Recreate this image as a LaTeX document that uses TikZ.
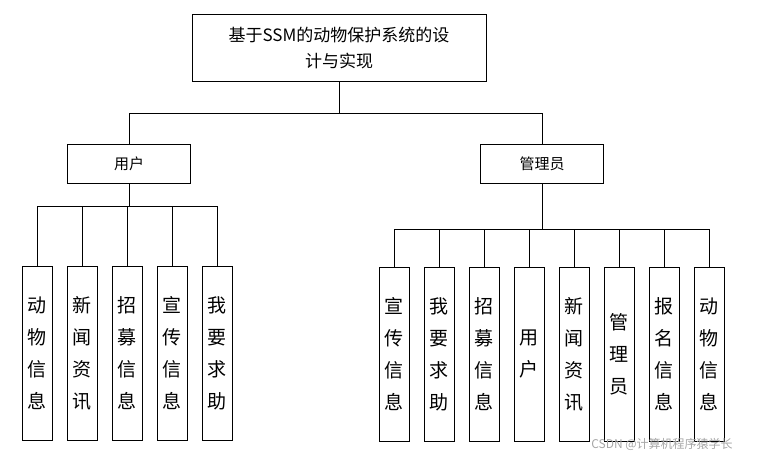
\documentclass[tikz,border=0pt]{standalone}
\usepackage{fontspec}
\newfontfamily\cjk{Noto Sans CJK SC}
\usetikzlibrary{positioning}

\begin{document}
\begin{tikzpicture}[
      x=1pt, y=-1pt,
      every node/.style={font=\cjk},
      box/.style={draw, thick, inner sep=0pt},
      leaf/.style={box, minimum width=30pt, minimum height=174pt, align=center, font=\cjk\fontsize{19}{32}\selectfont},
      role/.style={box, minimum width=123pt, minimum height=39pt, font=\cjk\fontsize{15}{16}\selectfont},
      link/.style={thick}
    ]
      \useasboundingbox (0,0) rectangle (757,458);

      % Nodes
      \node[box, minimum width=294pt, minimum height=67pt, align=center, font=\cjk\fontsize{17}{26}\selectfont] (sys) at (339,48) {基于SSM的动物保护系统的设\\计与实现};
      \node[role] (user) at (129,164) {用户};
      \node[role] (admin) at (542,164) {管理员};

      \foreach \t [count=\i] in {动\\物\\信\\息, 新\\闻\\资\\讯, 招\\募\\信\\息, 宣\\传\\信\\息, 我\\要\\求\\助}
        \node[leaf] (u\i) at ({37+45*(\i-1)},353) {\t};
      \foreach \t [count=\i] in {宣\\传\\信\\息, 我\\要\\求\\助, 招\\募\\信\\息, 用\\户, 新\\闻\\资\\讯, 管\\理\\员, 报\\名\\信\\息, 动\\物\\信\\息}
        \node[leaf] (a\i) at ({394+45*(\i-1)},354) {\t};

      % Links
      \draw[link] (sys.south) -- ++(0,31) -| (user.north);
      \draw[link] (sys.south) ++(0,31) -| (admin.north);
      \foreach \i in {1,...,5}
        \draw[link] (user.south) -- ++(0,22) -| (u\i.north);
      \foreach \i in {1,...,8}
        \draw[link] (admin.south) -- ++(0,45) -| (a\i.north);

      % Watermark
      \node[text=gray!70, font=\cjk\fontsize{12}{14}\selectfont] (mark) at (662,444) {CSDN @计算机程序猿学长};
    \end{tikzpicture}
\end{document}
